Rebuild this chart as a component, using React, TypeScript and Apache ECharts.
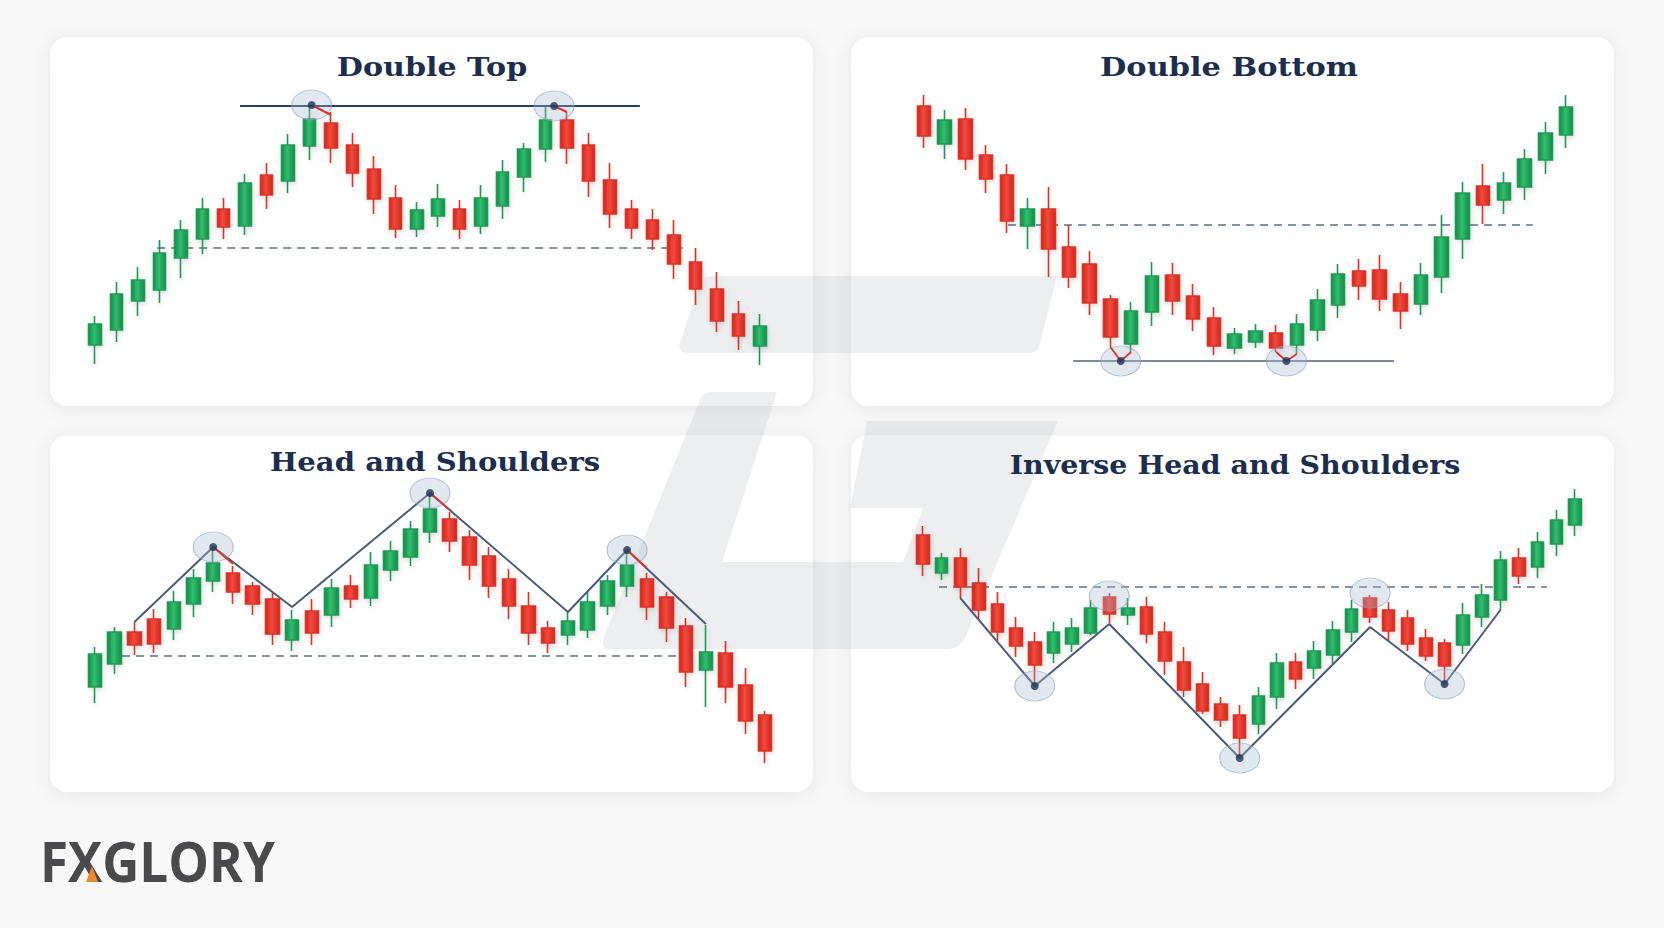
import { useEffect, useRef } from 'react';
import * as echarts from 'echarts';

// ---------- DATA (candles: [open, close, low, high]) ----------
const doubleTopCandles: number[][] = [
  [55, 76, 36, 84], [70, 106, 58, 118], [99, 120, 84, 133], [110, 147, 97, 160],
  [142, 170, 122, 180], [161, 191, 146, 202], [191, 173, 161, 202], [174, 217, 165, 226],
  [225, 205, 191, 237], [219, 255, 207, 266], [254, 281, 240, 295], [277, 252, 237, 288],
  [255, 227, 213, 267], [231, 201, 186, 244], [202, 171, 162, 215], [171, 190, 163, 198],
  [184, 201, 173, 216], [191, 171, 161, 200], [174, 202, 166, 215], [194, 228, 181, 240],
  [223, 251, 208, 257], [251, 280, 238, 294], [280, 252, 236, 288], [255, 219, 203, 267],
  [220, 186, 172, 237], [191, 172, 161, 200], [180, 161, 150, 191], [165, 136, 121, 180],
  [138, 111, 95, 152], [111, 79, 68, 128], [86, 64, 50, 99], [54, 74, 35, 86],
];
const doubleTopResistance = 294;
const doubleTopSupport = 152;
const doubleTopPeaks: number[][] = [[10.1, 295], [21.4, 294]];

const doubleBottomCandles: number[][] = [
  [294, 264, 252, 305], [256, 280, 241, 290], [281, 241, 230, 292], [245, 221, 207, 255],
  [225, 179, 167, 236], [174, 191, 151, 202], [191, 151, 123, 213], [153, 123, 112, 175],
  [136, 97, 85, 149], [101, 63, 53, 105], [56, 89, 48, 98], [88, 124, 74, 138],
  [125, 99, 85, 137], [104, 81, 69, 116], [82, 54, 45, 93], [52, 66, 46, 72],
  [58, 69, 52, 76], [67, 52, 48, 75], [55, 76, 46, 86], [70, 100, 59, 111],
  [95, 126, 82, 136], [129, 114, 100, 141], [130, 101, 89, 145], [106, 89, 71, 118],
  [96, 125, 85, 137], [123, 163, 107, 185], [161, 207, 141, 218], [214, 195, 176, 236],
  [200, 217, 186, 228], [213, 241, 200, 251], [240, 267, 226, 278], [265, 293, 252, 305],
];
const doubleBottomSupport = 39;
const doubleBottomResistance = 175;
const doubleBottomTroughs: number[][] = [[9.5, 39], [17.5, 39]];

const headShouldersCandles: number[][] = [
  [113, 146, 97, 153], [136, 168, 126, 173], [168, 155, 145, 178], [181, 156, 147, 191],
  [171, 198, 160, 209], [196, 222, 183, 231], [219, 237, 208, 253], [227, 208, 196, 234],
  [214, 196, 185, 218], [201, 166, 155, 207], [160, 180, 149, 190], [189, 167, 155, 201],
  [185, 212, 173, 221], [214, 201, 192, 225], [202, 235, 194, 248], [230, 249, 219, 259],
  [243, 271, 234, 279], [268, 291, 257, 307], [281, 259, 248, 288], [263, 235, 220, 270],
  [244, 214, 202, 253], [221, 194, 181, 231], [194, 167, 155, 208], [172, 157, 147, 179],
  [165, 179, 155, 188], [170, 198, 162, 208], [194, 219, 185, 225], [214, 235, 203, 250],
  [221, 193, 180, 227], [203, 172, 158, 208], [174, 128, 113, 182], [130, 148, 93, 175],
  [147, 113, 97, 159], [115, 79, 66, 132], [85, 49, 37, 89],
];
const headShouldersNeckline = 144;
const headShouldersPath: number[][] = [[2, 178], [6, 253], [10, 193], [17, 307], [24, 188], [27, 250], [31, 176]];
const headShouldersPeaks: number[][] = [[6, 253], [17, 307], [27, 250]];

const inverseHSCandles: number[][] = [
  [265, 236, 224, 274], [227, 242, 220, 247], [242, 213, 202, 252], [217, 190, 180, 232],
  [196, 168, 159, 208], [172, 154, 143, 183], [158, 135, 114, 168], [147, 168, 137, 178],
  [156, 172, 148, 182], [167, 192, 165, 200], [203, 186, 177, 207], [185, 192, 175, 202],
  [193, 166, 157, 203], [168, 139, 125, 178], [138, 110, 103, 153], [116, 89, 86, 128],
  [96, 80, 73, 103], [85, 62, 42, 95], [76, 104, 66, 113], [103, 137, 91, 147],
  [138, 121, 111, 147], [132, 149, 121, 159], [145, 170, 136, 179], [168, 191, 158, 200],
  [202, 183, 177, 205], [190, 169, 159, 198], [182, 156, 149, 190], [162, 144, 139, 171],
  [157, 134, 116, 161], [155, 185, 146, 197], [183, 205, 173, 216], [200, 240, 190, 249],
  [242, 224, 216, 252], [233, 258, 222, 268], [256, 280, 244, 290], [275, 301, 264, 311],
];
const inverseHSNeckline = 213;
const inverseHSPath: number[][] = [[2, 202], [6, 114], [10, 176], [17, 42], [24, 173], [28, 116], [31, 190]];
const inverseHSTroughs: number[][] = [[6, 114], [17, 42], [28, 116]];
const inverseHSPeaks: number[][] = [[10, 204], [24, 207]];

const titles = ['Double Top', 'Double Bottom', 'Head and Shoulders', 'Inverse Head and Shoulders'];

// ---------- STYLE ----------
const NAVY = '#1c2d4f';
const LINE = '#4c5c78';
const DASH = '#5d6d88';

const gMark =
  'M 712 276 L 1057 276 L 1040 344 Q 1038 353 1029 353 L 688 353 Q 677 353 680 343 L 699 286 Q 703 276 712 276 Z ' +
  'M 712 392 L 777 392 L 722 562 L 903 562 L 923 508 L 850 508 L 867 421 L 1058 421 L 965 638 Q 960 649 948 649 L 612 649 Q 600 649 604 637 L 700 400 Q 704 392 712 392 Z';

let registered = false;

function grad(c1: string, c2: string) {
  return new echarts.graphic.LinearGradient(0, 0, 1, 0, [
    { offset: 0, color: c1 },
    { offset: 0.45, color: c2 },
    { offset: 1, color: c1 },
  ]);
}

export default function App() {
  const ref = useRef<HTMLDivElement>(null);

  useEffect(() => {
    document.body.style.margin = '0';
    if (!registered) {
      echarts.graphic.registerShape('gmark', echarts.graphic.extendPath(gMark, {}) as any);
      registered = true;
    }
    const chart = echarts.init(ref.current!, null, { renderer: 'svg' });

    const panels = [
      { candles: doubleTopCandles, left: 84.27, width: 686.45, top: 80, height: 300, min: 20, max: 320, bw: 13 },
      { candles: doubleBottomCandles, left: 913.65, width: 662.7, top: 80, height: 300, min: 20, max: 320, bw: 14 },
      { candles: headShouldersCandles, left: 85.15, width: 689.7, top: 470, height: 310, min: 20, max: 330, bw: 14 },
      { candles: inverseHSCandles, left: 913.69, width: 670.6, top: 470, height: 310, min: 20, max: 330, bw: 13 },
    ];

    const grid: any[] = [];
    const xAxis: any[] = [];
    const yAxis: any[] = [];
    const series: any[] = [];

    const upColor = grad('#17894a', '#2fc06c');
    const downColor = grad('#d0261d', '#f24a3d');

    panels.forEach((p, i) => {
      grid.push({ left: p.left, top: p.top, width: p.width, height: p.height, containLabel: false });
      xAxis.push({
        type: 'category', gridIndex: i, show: false, boundaryGap: true,
        data: p.candles.map((_, k) => String(k + 1)),
      });
      xAxis.push({ type: 'value', gridIndex: i, show: false, min: -0.5, max: p.candles.length - 0.5 });
      yAxis.push({ type: 'value', gridIndex: i, show: false, min: p.min, max: p.max, splitLine: { show: false } });
      series.push({
        type: 'candlestick', xAxisIndex: 2 * i, yAxisIndex: i, barWidth: p.bw, z: 3,
        data: p.candles,
        itemStyle: {
          color: upColor, color0: downColor, borderColor: '#1f9a55', borderColor0: '#dd3327', borderWidth: 1.6,
          shadowBlur: 5, shadowColor: 'rgba(0,0,0,0.14)', shadowOffsetX: 1, shadowOffsetY: 2,
        },
      });
    });

    const line = (i: number, data: number[][], style: any, z = 4) => {
      series.push({
        type: 'line', xAxisIndex: 2 * i + 1, yAxisIndex: i, data, symbol: 'none', silent: true, z,
        lineStyle: style, clip: false,
      });
    };
    const halo = (i: number, data: number[][], withDot: boolean) => {
      series.push({
        type: 'scatter', xAxisIndex: 2 * i + 1, yAxisIndex: i, data, symbol: 'circle', symbolSize: [40, 30], z: 5, silent: true,
        itemStyle: { color: 'rgba(168,186,210,0.42)', borderColor: 'rgba(140,160,192,0.75)', borderWidth: 1 },
      });
      if (withDot) {
        series.push({
          type: 'scatter', xAxisIndex: 2 * i + 1, yAxisIndex: i, data, symbol: 'circle', symbolSize: 8, z: 7, silent: true,
          itemStyle: { color: '#1e3456' },
        });
      }
    };
    const dashStyle = { color: DASH, width: 1.6, type: [8, 6] };

    // Panel 1: Double Top
    line(0, [[6.76, doubleTopResistance], [25.4, doubleTopResistance]], { color: '#2a3d60', width: 2 });
    line(0, [[2.9, doubleTopSupport], [27.4, doubleTopSupport]], dashStyle, 2);
    line(0, [[10.1, 295], [11, 285]], { color: '#e0352a', width: 2 }, 6);
    line(0, [[21.4, 294], [22, 288]], { color: '#e0352a', width: 2 }, 6);
    halo(0, doubleTopPeaks, true);

    // Panel 2: Double Bottom
    line(1, [[7.2, doubleBottomSupport], [22.7, doubleBottomSupport]], { color: '#7b8aa3', width: 1.8 });
    line(1, [[4.06, doubleBottomResistance], [29.4, doubleBottomResistance]], dashStyle, 2);
    line(1, [[9, 53], [9.5, 39], [10, 48]], { color: '#e0352a', width: 1.8 }, 6);
    line(1, [[17, 48], [17.5, 39], [18, 46]], { color: '#e0352a', width: 1.8 }, 6);
    halo(1, doubleBottomTroughs, true);

    // Panel 3: Head and Shoulders
    line(2, [[0.66, headShouldersNeckline], [29.8, headShouldersNeckline]], dashStyle, 2);
    line(2, headShouldersPath, { color: LINE, width: 2 });
    line(2, [[6, 253], [7, 236]], { color: '#e0352a', width: 1.8 }, 6);
    line(2, [[17, 307], [18, 290]], { color: '#e0352a', width: 1.8 }, 6);
    line(2, [[27, 250], [28, 232]], { color: '#e0352a', width: 1.8 }, 6);
    halo(2, headShouldersPeaks, true);

    // Panel 4: Inverse Head and Shoulders
    line(3, [[0.86, inverseHSNeckline], [33.5, inverseHSNeckline]], dashStyle, 2);
    line(3, inverseHSPath, { color: LINE, width: 2 });
    halo(3, inverseHSTroughs, true);
    halo(3, inverseHSPeaks, false);

    const panelRects = [
      [50, 37], [851, 37], [50, 435], [851, 435],
    ].map(([x, y], k) => ({
      type: 'rect', z: 0, silent: true,
      shape: { x, y, width: 763, height: k < 2 ? 369 : 357, r: 18 },
      style: { fill: '#ffffff', shadowBlur: 18, shadowColor: 'rgba(0,0,0,0.08)', shadowOffsetY: 2 },
    }));

    const titlePos = [[432, 67], [1229, 67], [435, 462], [1235, 464]];
    const titleScale = [1.16, 1.17, 1.12, 1.095];
    const titleEls = titles.map((t, k) => ({
      type: 'text', z: 10, silent: true,
      x: titlePos[k][0], y: titlePos[k][1], scaleX: titleScale[k],
      style: {
        text: t, fill: NAVY, font: 'bold 26px "DejaVu Serif"', textAlign: 'center', textVerticalAlign: 'middle',
      },
    }));

    chart.setOption({
      animation: false,
      backgroundColor: '#f8f8f9',
      grid, xAxis, yAxis, series,
      graphic: {
        elements: [
          ...panelRects,
          { type: 'gmark', z: 1, silent: true, x: 0, y: 0, style: { fill: 'rgba(185,188,195,0.26)' } },
          ...titleEls,
          {
            type: 'text', z: 10, silent: true, x: 40, y: 861, scaleX: 0.915,
            style: { text: 'FXGLORY', fill: '#4a4a4c', font: 'bold 56px "Open Sans"', textVerticalAlign: 'middle' },
          },
          {
            type: 'polygon', z: 11, silent: true,
            shape: { points: [[92, 866], [98, 882], [86, 882]] },
            style: { fill: '#f0862a' },
          },
        ],
      },
    });

    return () => chart.dispose();
  }, []);

  return <div ref={ref} style={{ position: 'fixed', left: 0, top: 0, width: 1664, height: 928 }} />;
}
